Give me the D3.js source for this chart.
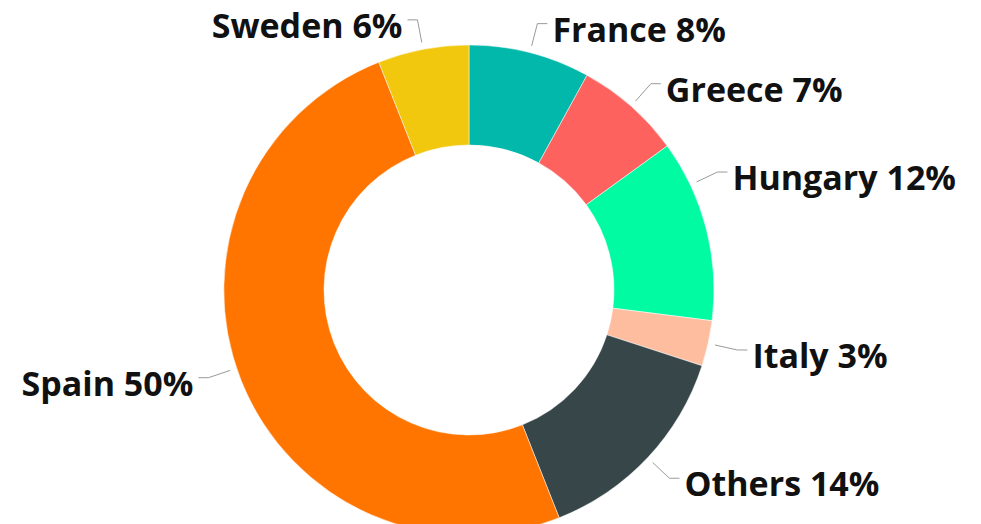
<!DOCTYPE html>
<html lang="en">
<head>
    <meta charset="UTF-8">
    <title>Share by country</title>
    <script src="https://d3js.org/d3.v7.min.js"></script>
    <style>
        body {
            margin: 0;
            background: #ffffff;
        }

        svg text {
            font-family: 'Open Sans', 'Noto Sans', sans-serif;
            font-weight: 700;
            font-size: 34px;
            fill: #111111;
        }
    </style>
</head>
<body>
    <svg id="chart" width="981" height="524"></svg>

    <script>
        // data, clockwise from 12 o'clock
        const countries = ['France', 'Greece', 'Hungary', 'Italy', 'Others', 'Spain', 'Sweden'];
        const shares = [8, 7, 12, 3, 14, 50, 6];
        const colors = ['#01B8AA', '#FD625E', '#01FBA2', '#FDBD9E', '#374649', '#FF7500', '#F2C80F'];

        // the reference tool pulls a couple of leaders off the slice middle (degrees)
        const leaderShift = { Hungary: -11, Spain: 3 };

        const cx = 469, cy = 290;
        const outerR = 245, innerR = 145;

        const svg = d3.select('#chart');
        const g = svg.append('g').attr('transform', `translate(${cx},${cy})`);

        const items = countries.map((c, i) => ({ name: c, value: shares[i], color: colors[i] }));

        const pie = d3.pie().value(d => d.value).sort(null);
        const arcs = pie(items);

        const arc = d3.arc().innerRadius(innerR).outerRadius(outerR);

        g.selectAll('path.slice')
            .data(arcs)
            .join('path')
            .attr('class', 'slice')
            .attr('d', arc)
            .attr('fill', d => d.data.color)
            .attr('stroke', '#ffffff')
            .attr('stroke-width', 0.5);

        // leader lines and labels
        const startArc = d3.arc().innerRadius(outerR + 7).outerRadius(outerR + 7);
        const elbowArc = d3.arc().innerRadius(outerR + 30).outerRadius(outerR + 30);

        function midAngle(d) {
            const shift = (leaderShift[d.data.name] || 0) * Math.PI / 180;
            return (d.startAngle + d.endAngle) / 2 + shift;
        }

        const points = arcs.map(d => {
            const a = midAngle(d);
            const p = { startAngle: a, endAngle: a };
            const s = startArc.centroid(p);
            const e = elbowArc.centroid(p);
            const right = Math.sin(a) >= 0;
            const end = [e[0] + (right ? 10 : -10), e[1]];
            return { d, s, e, end, right };
        });

        g.selectAll('polyline.leader')
            .data(points)
            .join('polyline')
            .attr('class', 'leader')
            .attr('points', p => [p.s, p.e, p.end].map(q => q.join(',')).join(' '))
            .attr('fill', 'none')
            .attr('stroke', '#9a9a9a')
            .attr('stroke-width', 1);

        g.selectAll('text.label')
            .data(points)
            .join('text')
            .attr('class', 'label')
            .attr('x', p => p.end[0] + (p.right ? 5 : -5))
            .attr('y', p => p.end[1] + 18)
            .attr('text-anchor', p => p.right ? 'start' : 'end')
            .text(p => `${p.d.data.name} ${p.d.data.value}%`);
    </script>
</body>
</html>
